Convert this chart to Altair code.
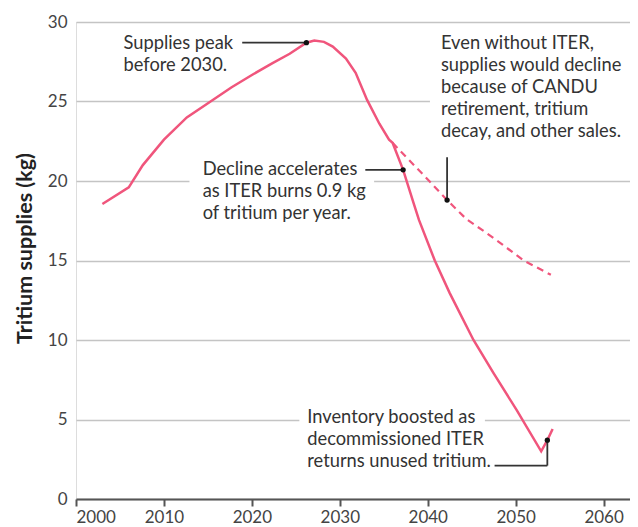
import altair as alt
import pandas as pd

# ---- data ----
main_years = [2003, 2006, 2007.6, 2010, 2012.6, 2015.3, 2017.7, 2020.1, 2022.3, 2024.3, 2026.2,
              2027.1, 2028.2, 2029.2, 2030.7, 2031.8, 2033.1, 2034.5, 2035.6, 2036.0, 2037.2,
              2038.4, 2039, 2040.8, 2042.5, 2045.2, 2047.5, 2050.1, 2052.9, 2053.6, 2054.2]
main_vals = [18.55, 19.6, 21.0, 22.6, 24.0, 25.0, 25.9, 26.7, 27.4, 28.0, 28.7,
             28.83, 28.75, 28.45, 27.7, 26.8, 25.1, 23.6, 22.6, 22.4, 20.7,
             18.6, 17.55, 15.0, 12.95, 10.0, 7.9, 5.6, 3.0, 3.7, 4.4]

dash_years = [2036.0, 2037.9, 2040, 2042.2, 2044.4, 2046.5, 2048.5, 2050.9, 2054.0]
dash_vals = [22.4, 21.3, 20.1, 18.8, 17.6, 16.8, 16.0, 15.0, 14.1]

dot_years = [2026.2, 2037.2, 2042.2, 2053.6]
dot_vals = [28.7, 20.7, 18.8, 3.7]

x_ticks = [2000, 2010, 2020, 2030, 2040, 2050, 2060]
y_ticks = [0, 5, 10, 15, 20, 25, 30]

note_texts = [
    "Supplies peak\nbefore 2030.",
    "Decline accelerates\nas ITER burns 0.9 kg\nof tritium per year.",
    "Even without ITER,\nsupplies would decline\nbecause of CANDU\nretirement, tritium\ndecay, and other sales.",
    "Inventory boosted as\ndecommissioned ITER\nreturns unused tritium.",
]
# anchor of the first line of each note
note_x = [2005.4, 2014.4, 2041.5, 2026.3]
note_y = [28.62, 20.69, 28.62, 5.09]

# leader lines (x, x2, y, y2)
lead_x = [2018.9, 2032.9, 2042.2, 2047.6, 2053.6]
lead_x2 = [2026.2, 2037.2, 2042.2, 2053.6, 2053.6]
lead_y = [28.7, 20.7, 21.5, 2.1, 2.1]
lead_y2 = [28.7, 20.7, 18.8, 2.1, 3.7]

# white boxes behind annotation text (break the gridlines)
mask_x = [2012.9, 2040.25, 2025.4]
mask_x2 = [2033.9, 2063, 2046.5]
mask_y = [17.0, 22.5, 2.3]
mask_y2 = [21.5, 29.3, 5.8]

PINK = "#f0557c"
FONT = "Lato"

xs = alt.Scale(domain=[2000, 2063], nice=False, zero=False)
ys = alt.Scale(domain=[0, 30], nice=False)

main_df = pd.DataFrame({"year": main_years, "val": main_vals})
dash_df = pd.DataFrame({"year": dash_years, "val": dash_vals})
dot_df = pd.DataFrame({"year": dot_years, "val": dot_vals})
note_df = pd.DataFrame({"x": note_x, "y": note_y, "t": note_texts})
lead_df = pd.DataFrame({"x": lead_x, "x2": lead_x2, "y": lead_y, "y2": lead_y2})
mask_df = pd.DataFrame({"x": mask_x, "x2": mask_x2, "y": mask_y, "y2": mask_y2})

x_axis = alt.Axis(values=x_ticks, format="d", grid=False, domainColor="#555",
                  domainWidth=2, tickColor="#555", tickWidth=2, tickSize=7,
                  labelFont=FONT, labelFontSize=17, labelColor="#444", labelPadding=3,
                  title=None)
y_axis = alt.Axis(values=y_ticks, grid=True, gridColor="#c4c4c4", gridWidth=1.5,
                  domain=False, ticks=False, labelFont=FONT, labelFontSize=17,
                  labelColor="#444", labelPadding=9,
                  title="Tritium supplies (kg)", titleFont=FONT, titleFontSize=21.5,
                  titleFontWeight="bold", titleColor="#222", titleX=-51, titleY=226,
                  titleAngle=270, titleAlign="center", titleBaseline="middle")

base_axes = alt.Chart(main_df).mark_line(opacity=0).encode(
    x=alt.X("year:Q", scale=xs, axis=x_axis),
    y=alt.Y("val:Q", scale=ys, axis=y_axis),
)

masks = alt.Chart(mask_df).mark_rect(color="white").encode(
    x=alt.X("x:Q", scale=xs), x2="x2", y=alt.Y("y:Q", scale=ys), y2="y2"
)

main_line = alt.Chart(main_df).mark_line(color=PINK, strokeWidth=2.5).encode(
    x=alt.X("year:Q", scale=xs), y=alt.Y("val:Q", scale=ys)
)
dash_line = alt.Chart(dash_df).mark_line(color=PINK, strokeWidth=2.2, strokeDash=[7, 5]).encode(
    x=alt.X("year:Q", scale=xs), y=alt.Y("val:Q", scale=ys)
)
leads = alt.Chart(lead_df).mark_rule(color="#333", strokeWidth=1.8).encode(
    x=alt.X("x:Q", scale=xs), x2="x2", y=alt.Y("y:Q", scale=ys), y2="y2"
)
dots = alt.Chart(dot_df).mark_circle(color="#111", size=28, opacity=1).encode(
    x=alt.X("year:Q", scale=xs), y=alt.Y("val:Q", scale=ys)
)
notes = alt.Chart(note_df).mark_text(
    align="left", baseline="middle", font=FONT, fontSize=18.3, color="#333",
    lineBreak="\n", lineHeight=22
).encode(x=alt.X("x:Q", scale=xs), y=alt.Y("y:Q", scale=ys), text="t:N")

chart = alt.layer(base_axes, masks, dash_line, main_line, leads, dots, notes).properties(
    width=554, height=477,
    padding={"left": 68, "top": 14, "right": 0, "bottom": 28},
    autosize=alt.AutoSizeParams(type="none"),
).configure_view(stroke=None).configure(background="white")

chart.save("out.html", embed_options={"renderer": "svg", "actions": False})
